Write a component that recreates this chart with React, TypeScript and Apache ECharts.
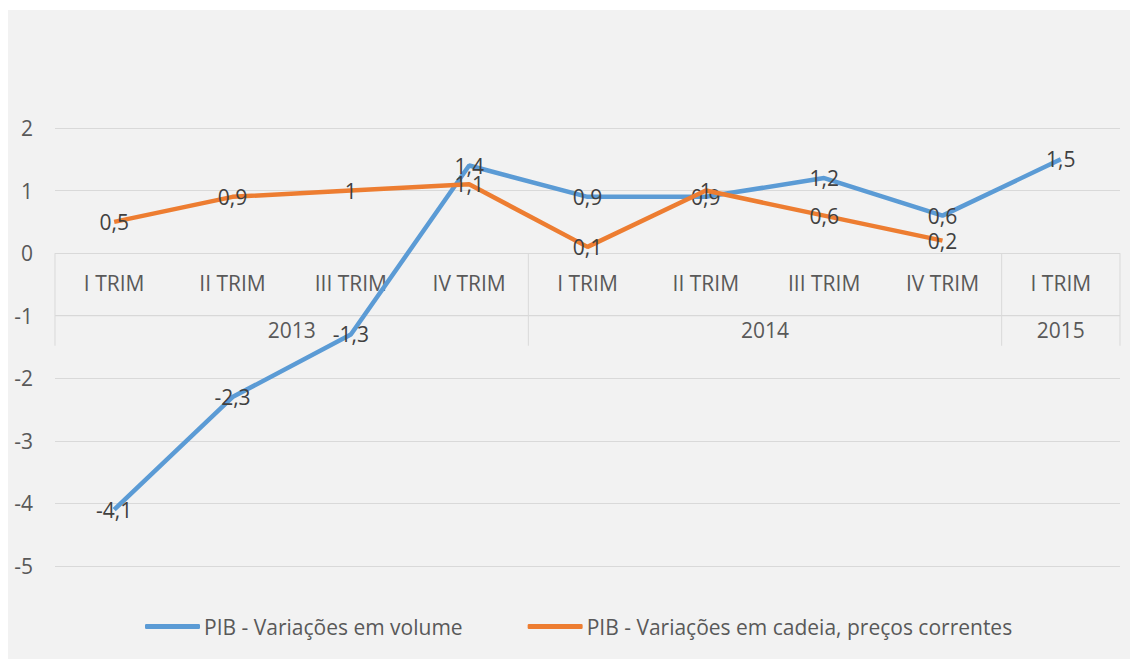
import React, { useEffect, useRef } from "react";
import * as echarts from "echarts";

const quarters = ["I TRIM", "II TRIM", "III TRIM", "IV TRIM", "I TRIM", "II TRIM", "III TRIM", "IV TRIM", "I TRIM"];
const years = ["2013", "2014", "2015"];
const yearCounts = [4, 4, 1];
const volume = [-4.1, -2.3, -1.3, 1.4, 0.9, 0.9, 1.2, 0.6, 1.5];
const cadeia: (number | null)[] = [0.5, 0.9, 1, 1.1, 0.1, 1, 0.6, 0.2, null];
const seriesNames = ["PIB - Variações em volume", "PIB - Variações em cadeia, preços correntes"];

const FONT = "Open Sans";
const FS = 21;
const AXIS_COLOR = "#595959";
const GRID_COLOR = "#d9d9d9";

export default function App() {
  const ref = useRef<HTMLDivElement>(null);
  useEffect(() => {
    if (!ref.current) return;
    const chart = echarts.init(ref.current, undefined, { renderer: "svg" });
    const fmt = (p: any) => String(p.value).replace(".", ",");
    const labelStyle = {
      show: true,
      position: "inside" as const,
      color: "#404040",
      fontSize: FS,
      fontFamily: FONT,
      formatter: fmt,
    };
    chart.setOption({
      animation: false,
      backgroundColor: "#f2f2f2",
      textStyle: { fontFamily: FONT },
      grid: { left: 47, right: 10, top: 118, bottom: 93 },
      xAxis: {
        type: "category",
        data: quarters,
        boundaryGap: true,
        axisLine: { show: false },
        axisTick: { show: false },
        axisLabel: { show: false },
      },
      yAxis: {
        type: "value",
        min: -5,
        max: 2,
        interval: 1,
        axisLine: { show: false },
        axisTick: { show: false },
        axisLabel: { color: AXIS_COLOR, fontSize: FS, fontFamily: FONT, margin: 22 },
        splitLine: { lineStyle: { color: GRID_COLOR, width: 1 } },
      },
      legend: {
        left: 132,
        top: 601,
        icon: "roundRect",
        itemWidth: 55,
        itemHeight: 5,
        itemGap: 65,
        textStyle: { color: AXIS_COLOR, fontSize: FS, fontFamily: FONT, padding: [0, 0, 0, -1] },
        data: seriesNames,
      },
      series: [
        {
          name: seriesNames[0],
          type: "line",
          data: volume,
          symbol: "circle",
          symbolSize: 0.1,
          lineStyle: { color: "#5b9bd5", width: 4.5 },
          itemStyle: { color: "#5b9bd5" },
          label: labelStyle,
          z: 2,
        },
        {
          name: seriesNames[1],
          type: "line",
          data: cadeia,
          symbol: "circle",
          symbolSize: 0.1,
          lineStyle: { color: "#ed7d31", width: 4.5 },
          itemStyle: { color: "#ed7d31" },
          label: labelStyle,
          z: 3,
        },
      ],
    });

    // multi-level category table (quarters / years), positioned from the axis scales
    const px = (i: number) => chart.convertToPixel({ xAxisIndex: 0 }, i) as number;
    const py = (v: number) => chart.convertToPixel({ yAxisIndex: 0 }, v) as number;
    const band = px(1) - px(0);
    const y0 = py(0);
    const row = py(-1) - y0;
    const startX = px(0) - band / 2;
    const endX = px(quarters.length - 1) + band / 2;
    const elements: any[] = [];
    const lineStyle = { stroke: GRID_COLOR, lineWidth: 1 };
    elements.push({ type: "line", shape: { x1: startX, y1: y0 + row, x2: endX, y2: y0 + row }, style: lineStyle, silent: true, z: 0 });
    quarters.forEach((q, i) => {
      elements.push({
        type: "text",
        x: px(i),
        y: y0 + row * 0.48,
        style: { text: q, fill: AXIS_COLOR, fontSize: FS, fontFamily: FONT, align: "center", verticalAlign: "middle" },
        silent: true,
        z: 0,
      });
    });
    let idx = 0;
    const bounds = [0];
    years.forEach((y, k) => {
      const s = startX + idx * band;
      const w = yearCounts[k] * band;
      elements.push({
        type: "text",
        x: s + w / 2,
        y: y0 + row * 1.23,
        style: { text: y, fill: AXIS_COLOR, fontSize: FS, fontFamily: FONT, align: "center", verticalAlign: "middle" },
        silent: true,
        z: 0,
      });
      idx += yearCounts[k];
      bounds.push(idx);
    });
    bounds.forEach((b) => {
      const x = startX + b * band;
      elements.push({ type: "line", shape: { x1: x, y1: y0, x2: x, y2: y0 + row * 1.48 }, style: lineStyle, silent: true, z: 0 });
    });
    chart.setOption({ graphic: { elements } });

    return () => chart.dispose();
  }, []);
  return (
    <div style={{ position: "absolute", left: 0, top: 0, width: 1130, height: 659, background: "#ffffff" }}>
      <div ref={ref} style={{ position: "absolute", left: 8, top: 10, width: 1122, height: 649 }} />
    </div>
  );
}
